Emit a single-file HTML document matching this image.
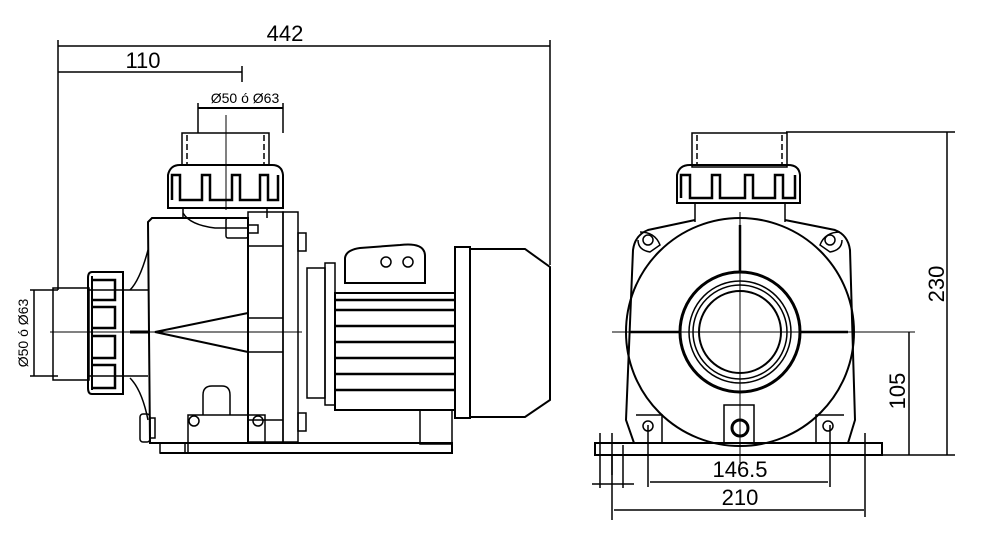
<!DOCTYPE html>
<html><head><meta charset="utf-8"><style>
html,body{margin:0;padding:0;background:#fff;}
svg{display:block;}
text{font-family:"Liberation Sans",sans-serif;fill:#000;}
</style></head><body>
<svg width="984" height="538" viewBox="0 0 984 538" xmlns="http://www.w3.org/2000/svg">
<g fill="none" stroke="#000" stroke-width="1.5">
<line x1="58" y1="46" x2="550" y2="46"/>
<line x1="58" y1="40" x2="58" y2="290"/>
<line x1="550" y1="40" x2="550" y2="265"/>
<line x1="58" y1="72" x2="242" y2="72"/>
<line x1="242" y1="66" x2="242" y2="82"/>
<line x1="198" y1="108" x2="283" y2="108" stroke-width="2"/>
<line x1="198" y1="103" x2="198" y2="133"/>
<line x1="283" y1="103" x2="283" y2="133"/>
<line x1="30" y1="290" x2="58" y2="290"/>
<line x1="30" y1="376" x2="58" y2="376"/>
<line x1="34" y1="290" x2="34" y2="376"/>
<line x1="226" y1="115" x2="226" y2="210" stroke-width="1"/>
<line x1="50" y1="332" x2="302" y2="332" stroke-width="1"/>

<rect x="182" y="133" width="87" height="32"/>
<line x1="187" y1="135" x2="187" y2="165" stroke-dasharray="6,3"/>
<line x1="264" y1="135" x2="264" y2="165" stroke-dasharray="6,3"/>
<path d="M168 208 L168 175 Q170 165 180 165 L272 165 Q282 165 283 175 L283 208 Z" stroke-width="2"/>
<path d="M172 200 L172 175 L180 175 L180 200 L202 200 L202 175 L210 175 L210 200 L232 200 L232 175 L240 175 L240 200 L260 200 L260 175 L268 175 L268 200 L278 200 L278 175" stroke-width="2.5"/>
<line x1="183" y1="208" x2="183" y2="218"/>
<line x1="267" y1="208" x2="267" y2="218"/>
<path d="M152 218 L248 218 L248 443 L150 443 L148 222 Z" stroke-width="2"/>
<path d="M183 213 Q190 225 215 228 L248 228"/>
<rect x="226" y="218" width="22" height="20" rx="2"/>
<rect x="248" y="225" width="10" height="8"/>
<path d="M148 250 Q140 280 130 290"/>
<path d="M130 378 Q142 390 148 420"/>
<path d="M248 313 L155 332 L248 352" stroke-width="2"/>
<line x1="130" y1="332" x2="150" y2="332" stroke-width="3"/>
<rect x="248" y="212" width="35" height="230"/>
<rect x="283" y="212" width="15" height="230"/>
<line x1="248" y1="246" x2="283" y2="246"/>
<line x1="248" y1="318" x2="283" y2="318"/>
<line x1="248" y1="352" x2="283" y2="352"/>
<line x1="248" y1="420" x2="283" y2="420"/>
<rect x="298" y="233" width="8" height="18"/>
<rect x="298" y="413" width="8" height="18"/>
<rect x="53" y="288" width="36" height="92"/>
<line x1="88" y1="290" x2="123" y2="290"/>
<line x1="88" y1="376" x2="123" y2="376"/>
<line x1="123" y1="290" x2="148" y2="290"/>
<line x1="123" y1="376" x2="148" y2="376"/>
<path d="M92 272 L123 272 L123 394 L92 394 Q88 394 88 388 L88 278 Q88 272 92 272 Z" stroke-width="2"/>
<path d="M92 276 L92 390" stroke-width="2"/>
<path d="M92 280 L115 280 L115 300 L92 300 M92 307 L115 307 L115 328 L92 328 M92 336 L115 336 L115 358 L92 358 M92 365 L115 365 L115 388 L92 388" stroke-width="2.5"/>
<rect x="307" y="268" width="18" height="130"/>
<rect x="325" y="263" width="10" height="142"/>
<rect x="335" y="293" width="120" height="117" stroke-width="2"/>
<g stroke-width="2.5">
<line x1="335" y1="310" x2="455" y2="310"/><line x1="335" y1="326" x2="455" y2="326"/>
<line x1="335" y1="342" x2="455" y2="342"/><line x1="335" y1="358" x2="455" y2="358"/>
<line x1="335" y1="374" x2="455" y2="374"/><line x1="335" y1="390" x2="455" y2="390"/>
<line x1="335" y1="300" x2="455" y2="300"/>
</g>
<circle cx="386" cy="262" r="5"/><circle cx="408" cy="262" r="5"/>
<path d="M345 283 L345 258 Q346 250 360 248 L400 245 Q425 242 425 256 L425 283 Z" stroke-width="2"/>
<rect x="455" y="247" width="15" height="171" stroke-width="2"/>
<path d="M470 249 L525 249 L550 267 L550 400 L525 417 L470 417 Z" stroke-width="2"/>
<rect x="420" y="410" width="32" height="34"/>
<path d="M160 453 L452 453 L452 443 L188 443" stroke-width="2"/>
<line x1="188" y1="443" x2="188" y2="453"/>
<rect x="160" y="443" width="25" height="10"/>
<path d="M203 415 L203 395 Q203 386 212 386 L222 386 Q230 386 230 395 L230 415"/>
<path d="M188 443 L188 415 L265 415 L265 443"/>
<circle cx="194" cy="421" r="5"/><circle cx="258" cy="421" r="5"/>
<rect x="140" y="414" width="10" height="28" rx="3"/>
<rect x="150" y="418" width="5" height="20"/>

<rect x="692" y="133" width="95" height="34"/>
<line x1="697" y1="135" x2="697" y2="165" stroke-dasharray="6,3"/>
<line x1="782" y1="135" x2="782" y2="165" stroke-dasharray="6,3"/>
<path d="M677 203 L677 175 Q679 165 690 165 L788 165 Q799 165 800 175 L800 203 Z" stroke-width="2"/>
<path d="M681 198 L681 175 L690 175 L690 198 L712 198 L712 175 L720 175 L720 198 L745 198 L745 175 L753 175 L753 198 L775 198 L775 175 L783 175 L783 198 L795 198 L795 175" stroke-width="2.5"/>
<line x1="695" y1="203" x2="695" y2="222"/>
<line x1="785" y1="203" x2="785" y2="222"/>
<path d="M695 220 L648 230 Q635 235 633 250 L626 420 L634 443 L848 443 L855 420 L850 250 Q848 235 835 230 L785 220" stroke-width="2"/>
<path d="M640 232 Q655 232 660 245 L650 252 Q638 250 638 240"/>
<path d="M840 232 Q825 232 820 245 L830 252 Q842 250 842 240"/>
<circle cx="740" cy="332" r="114" stroke-width="2"/>
<circle cx="740" cy="332" r="60" stroke-width="3"/>
<circle cx="740" cy="332" r="51"/>
<circle cx="740" cy="332" r="47"/>
<circle cx="740" cy="332" r="41" stroke-width="2"/>
<line x1="740" y1="212" x2="740" y2="463" stroke-width="1"/>
<line x1="612" y1="332" x2="915" y2="332" stroke-width="1"/>
<line x1="740" y1="225" x2="740" y2="272" stroke-width="2.5"/>
<line x1="630" y1="332" x2="680" y2="332" stroke-width="2.5"/>
<line x1="800" y1="332" x2="848" y2="332" stroke-width="2.5"/>
<circle cx="648" cy="240" r="5"/><circle cx="830" cy="240" r="5"/>
<circle cx="648" cy="426" r="5"/><circle cx="828" cy="426" r="5"/>
<path d="M636 415 L662 415 L662 443 M844 415 L816 415 L816 443"/>
<path d="M724 443 L724 405 L754 405 L754 443"/>
<circle cx="740" cy="428" r="8" stroke-width="3"/>
<rect x="595" y="443" width="287" height="12" stroke-width="2"/>
<line x1="786" y1="132" x2="955" y2="132"/>
<line x1="882" y1="455" x2="955" y2="455"/>
<line x1="947" y1="132" x2="947" y2="455"/>
<line x1="909" y1="332" x2="909" y2="455"/>
<line x1="648" y1="425" x2="648" y2="487"/>
<line x1="830" y1="425" x2="830" y2="487"/>
<line x1="650" y1="482" x2="828" y2="482"/>
<line x1="612" y1="455" x2="612" y2="520"/>
<line x1="865" y1="433" x2="865" y2="517"/>
<line x1="614" y1="510" x2="864" y2="510"/>
<line x1="600" y1="433" x2="600" y2="488"/>
<line x1="623" y1="445" x2="623" y2="488"/>
<line x1="612" y1="433" x2="612" y2="475"/>
<line x1="592" y1="484" x2="634" y2="484"/>
</g>
<text x="285" y="41" font-size="22" text-anchor="middle">442</text>
<text x="143" y="68" font-size="22" text-anchor="middle">110</text>
<text x="245" y="103" font-size="14" text-anchor="middle">Ø50 ó Ø63</text>
<text transform="translate(28,333) rotate(-90)" font-size="14" text-anchor="middle">Ø50 ó Ø63</text>
<text x="740" y="477" font-size="22" text-anchor="middle">146.5</text>
<text x="740" y="505" font-size="22" text-anchor="middle">210</text>
<text transform="translate(944,284) rotate(-90)" font-size="22" text-anchor="middle">230</text>
<text transform="translate(905,391) rotate(-90)" font-size="22" text-anchor="middle">105</text>
</svg>
</body></html>
